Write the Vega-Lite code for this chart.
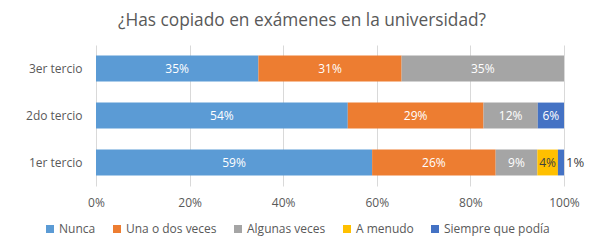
{
  "$schema": "https://vega.github.io/schema/vega-lite/v6.json",
  "width": 468,
  "height": 141,
  "autosize": {"type": "none"},
  "padding": {"left": 96, "top": 45, "right": 36, "bottom": 63},
  "background": "white",
  "config": {"view": {"stroke": null}, "font": "Open Sans"},
  "title": {"text": "¿Has copiado en exámenes en la universidad?", "fontSize": 17.3, "fontWeight": "normal", "color": "#595959", "offset": 16, "dx": -28},
  "data": {"values": [
    {"t": "3er tercio", "cat": "Nunca", "v": 0.347},
    {"t": "3er tercio", "cat": "Una o dos veces", "v": 0.306},
    {"t": "3er tercio", "cat": "Algunas veces", "v": 0.347},
    {"t": "2do tercio", "cat": "Nunca", "v": 0.538},
    {"t": "2do tercio", "cat": "Una o dos veces", "v": 0.29},
    {"t": "2do tercio", "cat": "Algunas veces", "v": 0.116},
    {"t": "2do tercio", "cat": "Siempre que podía", "v": 0.056},
    {"t": "1er tercio", "cat": "Nunca", "v": 0.59},
    {"t": "1er tercio", "cat": "Una o dos veces", "v": 0.264},
    {"t": "1er tercio", "cat": "Algunas veces", "v": 0.089},
    {"t": "1er tercio", "cat": "A menudo", "v": 0.044},
    {"t": "1er tercio", "cat": "Siempre que podía", "v": 0.013}
  ]},
  "transform": [
    {"calculate": "indexof(['Nunca','Una o dos veces','Algunas veces','A menudo','Siempre que podía'], datum.cat)", "as": "ord"},
    {"stack": "v", "groupby": ["t"], "sort": [{"field": "ord"}], "as": ["x0", "x1"]},
    {"calculate": "(datum.x0 + datum.x1) / 2", "as": "xm"}
  ],
  "encoding": {
    "y": {"field": "t", "type": "nominal", "sort": ["3er tercio", "2do tercio", "1er tercio"],
      "scale": {"paddingInner": 0.45, "paddingOuter": 0.225},
      "axis": {"title": null, "domain": false, "ticks": false, "labelPadding": 14, "labelFontSize": 12, "labelColor": "#595959"}}
  },
  "layer": [
    {
      "mark": {"type": "bar"},
      "encoding": {
        "x": {"field": "x0", "type": "quantitative", "scale": {"domain": [0, 1]},
          "axis": {"title": null, "format": ".0%", "values": [0, 0.2, 0.4, 0.6, 0.8, 1], "domain": false, "ticks": false, "labelPadding": 11, "labelFontSize": 12, "labelColor": "#595959", "gridColor": "#D9D9D9", "labelFlush": false}},
        "x2": {"field": "x1"},
        "color": {"field": "cat", "type": "nominal",
          "scale": {"domain": ["Nunca", "Una o dos veces", "Algunas veces", "A menudo", "Siempre que podía"], "range": ["#5B9BD5", "#ED7D31", "#A5A5A5", "#FFC000", "#4472C4"]},
          "legend": {"title": null, "orient": "none", "legendX": -52, "legendY": 178, "direction": "horizontal", "symbolType": "square", "symbolSize": 64, "labelFontSize": 12, "labelColor": "#595959", "columnPadding": 15, "labelOffset": 3}}
      }
    },
    {
      "transform": [{"filter": "datum.v >= 0.02"}],
      "mark": {"type": "text", "fontSize": 12},
      "encoding": {
        "x": {"field": "xm", "type": "quantitative"},
        "text": {"field": "v", "type": "quantitative", "format": ".0%"},
        "color": {"condition": {"test": "datum.cat === 'A menudo'", "value": "#404040"}, "value": "white"}
      }
    },
    {
      "transform": [{"filter": "datum.v < 0.02"}],
      "mark": {"type": "text", "fontSize": 13, "align": "left", "dx": 2, "color": "#404040"},
      "encoding": {
        "x": {"field": "x1", "type": "quantitative"},
        "text": {"field": "v", "type": "quantitative", "format": ".0%"}
      }
    }
  ]
}
